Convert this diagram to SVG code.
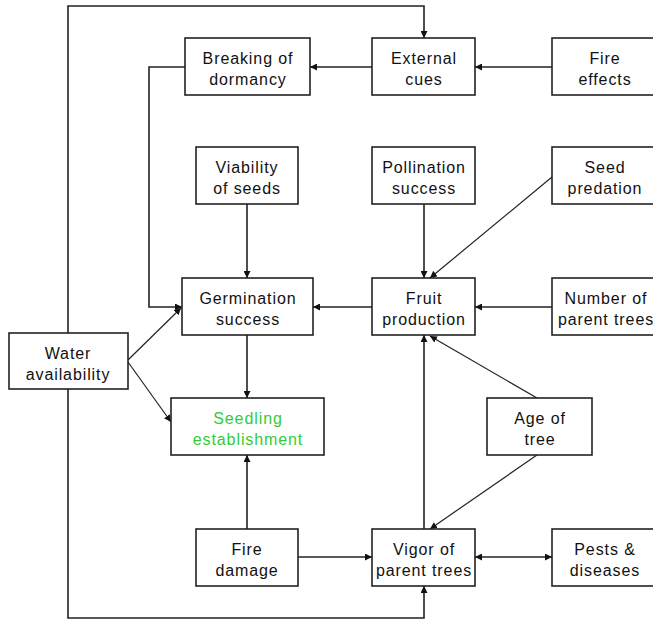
<svg xmlns="http://www.w3.org/2000/svg" width="653" height="620" viewBox="0 0 653 620">
<defs>
<marker id="ah" markerUnits="userSpaceOnUse" markerWidth="8" markerHeight="7" refX="7" refY="3.5" orient="auto">
<path d="M0,0 L7,3.5 L0,7 z" fill="#111"/>
</marker>
<marker id="as" markerUnits="userSpaceOnUse" markerWidth="8" markerHeight="7" refX="0" refY="3.5" orient="auto">
<path d="M7,0 L0,3.5 L7,7 z" fill="#111"/>
</marker>
</defs>
<style>
.box{fill:#fff;stroke:#222;stroke-width:1.6}
.t{font-family:"Liberation Sans",Arial,sans-serif;font-size:16px;letter-spacing:0.9px;fill:#111;text-anchor:middle}
.g{fill:#33cc33}
.c{fill:none;stroke:#222;stroke-width:1.6}
.d{fill:none;stroke:#222;stroke-width:1.2}
</style>
<rect width="653" height="620" fill="#fff"/>
<g id="connectors">
<path class="c" d="M68,333 V6 H424 V38" marker-end="url(#ah)"/>
<path class="c" d="M68,389 V618 H424 V586" marker-end="url(#ah)"/>
<path class="c" d="M372,67 H310" marker-end="url(#ah)"/>
<path class="c" d="M552,67 H475" marker-end="url(#ah)"/>
<path class="c" d="M185,67 H149 V307 H182" marker-end="url(#ah)"/>
<path class="c" d="M247,204 V278" marker-end="url(#ah)"/>
<path class="c" d="M424,204 V278" marker-end="url(#ah)"/>
<path class="d" d="M552,177 L430,278" marker-end="url(#ah)"/>
<path class="c" d="M552,307 H475" marker-end="url(#ah)"/>
<path class="c" d="M372,307 H313" marker-end="url(#ah)"/>
<path class="d" d="M128,360 L181,308" marker-end="url(#ah)"/>
<path class="d" d="M128,362 L171,422" marker-end="url(#ah)"/>
<path class="c" d="M247,335 V398" marker-end="url(#ah)"/>
<path class="c" d="M247,529 V455" marker-end="url(#ah)"/>
<path class="c" d="M298,557 H372" marker-end="url(#ah)"/>
<path class="c" d="M424,529 V335" marker-end="url(#ah)"/>
<path class="d" d="M537,398 L430,336" marker-end="url(#ah)"/>
<path class="d" d="M537,455 L430,529" marker-end="url(#ah)"/>
<path class="c" d="M475,557 H552" marker-start="url(#as)" marker-end="url(#ah)"/>
</g>
<g id="breaking"><rect class="box" x="185" y="38" width="125" height="57"/><text class="t" x="248" y="64">Breaking of</text><text class="t" x="248" y="85">dormancy</text></g>
<g id="external"><rect class="box" x="372" y="38" width="103" height="57"/><text class="t" x="424" y="64">External</text><text class="t" x="424" y="85">cues</text></g>
<g id="fireeffects"><rect class="box" x="552" y="38" width="106" height="57"/><text class="t" x="605" y="64">Fire</text><text class="t" x="605" y="85">effects</text></g>
<g id="viability"><rect class="box" x="196" y="147" width="102" height="57"/><text class="t" x="247" y="173">Viability</text><text class="t" x="247" y="194">of seeds</text></g>
<g id="pollination"><rect class="box" x="372" y="147" width="103" height="57"/><text class="t" x="424" y="173">Pollination</text><text class="t" x="424" y="194">success</text></g>
<g id="predation"><rect class="box" x="552" y="147" width="106" height="57"/><text class="t" x="605" y="173">Seed</text><text class="t" x="605" y="194">predation</text></g>
<g id="germination"><rect class="box" x="182" y="278" width="131" height="57"/><text class="t" x="248" y="304">Germination</text><text class="t" x="248" y="325">success</text></g>
<g id="fruit"><rect class="box" x="372" y="278" width="103" height="57"/><text class="t" x="424" y="304">Fruit</text><text class="t" x="424" y="325">production</text></g>
<g id="number"><rect class="box" x="552" y="278" width="106" height="57"/><text class="t" x="606" y="304">Number of</text><text class="t" x="606" y="325">parent trees</text></g>
<g id="water"><rect class="box" x="9" y="333" width="119" height="56"/><text class="t" x="68" y="359">Water</text><text class="t" x="68" y="380">availability</text></g>
<g id="seedling"><rect class="box" x="171" y="398" width="153" height="57"/><text class="t g" x="248" y="424">Seedling</text><text class="t g" x="248" y="445">establishment</text></g>
<g id="age"><rect class="box" x="487" y="398" width="105" height="57"/><text class="t" x="540" y="424">Age of</text><text class="t" x="540" y="445">tree</text></g>
<g id="firedamage"><rect class="box" x="196" y="529" width="102" height="57"/><text class="t" x="247" y="555">Fire</text><text class="t" x="247" y="576">damage</text></g>
<g id="vigor"><rect class="box" x="372" y="529" width="103" height="57"/><text class="t" x="424" y="555">Vigor of</text><text class="t" x="424" y="576">parent trees</text></g>
<g id="pests"><rect class="box" x="552" y="529" width="106" height="57"/><text class="t" x="605" y="555">Pests &amp;</text><text class="t" x="605" y="576">diseases</text></g>
</svg>
